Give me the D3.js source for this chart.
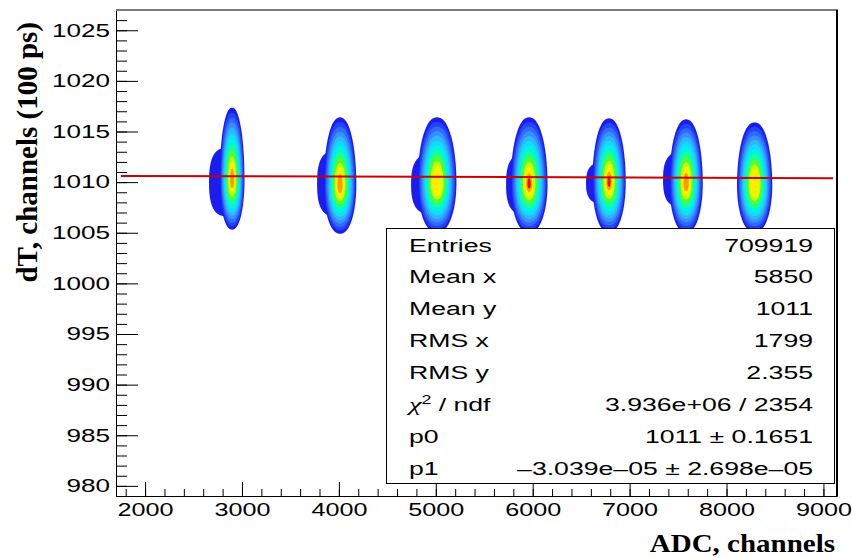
<!DOCTYPE html>
<html><head><meta charset="utf-8">
<script src="https://cdn.jsdelivr.net/npm/d3@7"></script>
<style>body{margin:0;background:#fff}</style>
</head><body>
<svg id="c" width="852" height="558"></svg>
<script>
// ---------------- data ----------------
const xTickValues = [2000, 3000, 4000, 5000, 6000, 7000, 8000, 9000];
const xTickLabels = ["2000", "3000", "4000", "5000", "6000", "7000", "8000", "9000"];
const yTickValues = [980, 985, 990, 995, 1000, 1005, 1010, 1015, 1020, 1025];
const yTickLabels = ["980", "985", "990", "995", "1000", "1005", "1010", "1015", "1020", "1025"];

// seven ADC clusters of the 2D histogram (ADC, dT)
const clusterADC = [2898, 4012, 5013, 5963, 6788, 7583, 8290];
const clusterHalfWidthADC = [128, 168, 200, 190, 172, 172, 182];
const clusterPeakDT = [1010.2, 1009.7, 1009.9, 1009.8, 1010.0, 1009.9, 1009.7];
const clusterTopDT = [1017.35, 1016.4, 1016.4, 1016.4, 1016.3, 1016.2, 1015.9];
const clusterBottomDT = [1005.3, 1004.9, 1005.0, 1005.0, 1005.0, 1005.0, 1005.0];
const clusterShoulderADC = [2660, 3775, 4745, 5725, 6550, 7345, 8150];
const clusterShoulderTopDT = [1013.6, 1013.3, 1013.0, 1013.0, 1012.2, 1013.2, 1012.0];
const clusterShoulderBottomDT = [1006.8, 1006.8, 1007.0, 1007.0, 1008.0, 1007.7, 1008.0];
const clusterPeakLevel = [11, 11, 10, 12, 12, 11, 10];

// linear fit pol1
const fitP0 = 1010.67, fitP1 = -3.039e-5;
const fitRange = [1750, 9100];

// stats box
const statsLabels = ["Entries", "Mean x", "Mean y", "RMS x", "RMS y", "CHI", "p0", "p1"];
const statsValues = ["709919", "5850", "1011", "1799", "2.355", "3.936e+06 / 2354",
  "1011 \u00b1 0.1651", "\u20133.039e\u201305 \u00b1 2.698e\u201305"];

const xTitle = "ADC, channels";
const yTitle = "dT, channels (100 ps)";

// ---------------- rendering ----------------
const levelColors = ["#1c1cf0", "#2244ff", "#2f6bff", "#3890ff", "#2bb8ff", "#10dcff",
  "#00f5e0", "#1cff90", "#50ff30", "#c8ff00", "#ffee00", "#ff9a00", "#e81000"];
const levelFactors = [1, 0.93, 0.86, 0.79, 0.72, 0.65, 0.57, 0.49, 0.41, 0.33, 0.25, 0.16, 0.09];

const svg = d3.select("#c");
const L = 116, R = 837, T = 10, B = 496;
const x = d3.scaleLinear().domain([1700, 9140]).range([L, R]);
const y = d3.scaleLinear().domain([979, 1027]).range([B, T]);
const SANS = "'Liberation Sans', Arial, Helvetica, sans-serif";
const SERIF = "'Liberation Serif', 'Times New Roman', serif";

const plot = svg.append("g");
const line = d3.line().x(d => x(d[0])).y(d => y(d[1])).curve(d3.curveLinearClosed);

clusterADC.forEach((cx, i) => {
  const g = plot.append("g");
  // left shoulder (low-count tail)
  const sx = clusterShoulderADC[i], sTop = clusterShoulderTopDT[i], sBot = clusterShoulderBottomDT[i];
  const mid = (sTop + sBot) / 2 - 0.2, half = (sTop - sBot) / 2;
  const sh = [];
  for (let a = Math.PI / 2; a <= 3 * Math.PI / 2 + 1e-9; a += Math.PI / 40) {
    const c = Math.cos(a), s = Math.sin(a);
    sh.push([cx - (cx - sx) * Math.pow(Math.abs(c), 0.55), mid + half * Math.sign(s) * Math.pow(Math.abs(s), 0.8)]);
  }
  g.append("path").attr("d", line(sh)).attr("fill", levelColors[0]);
  // contour levels
  for (let k = 0; k <= clusterPeakLevel[i]; k++) {
    const f = levelFactors[k];
    const pts = [];
    for (let a = 0; a < 2 * Math.PI; a += Math.PI / 48) {
      const c = Math.cos(a), s = Math.sin(a);
      const ext = s >= 0 ? (clusterTopDT[i] - clusterPeakDT[i]) : (clusterPeakDT[i] - clusterBottomDT[i]);
      pts.push([cx + clusterHalfWidthADC[i] * f * Math.sign(c) * Math.pow(Math.abs(c), 0.9),
                clusterPeakDT[i] + ext * f * s]);
    }
    g.append("path").attr("d", line(pts)).attr("fill", levelColors[k]);
  }
});

// fit line
svg.append("line")
  .attr("x1", x(fitRange[0])).attr("y1", y(fitP0 + fitP1 * fitRange[0]))
  .attr("x2", x(fitRange[1])).attr("y2", y(fitP0 + fitP1 * fitRange[1]))
  .attr("stroke", "#cc0000").attr("stroke-width", 2);

// axes
const yMinor = svg.append("g").attr("transform", `translate(${L},0)`)
  .call(d3.axisLeft(y).tickValues(d3.range(979, 1027.5, 1)).tickSize(-11).tickFormat(""));
const yMajor = svg.append("g").attr("transform", `translate(${L},0)`)
  .call(d3.axisLeft(y).tickValues(yTickValues).tickSize(-22).tickPadding(6)
    .tickFormat((d, i) => yTickLabels[i]));
const xMinor = svg.append("g").attr("transform", `translate(0,${B})`)
  .call(d3.axisBottom(x).tickValues(d3.range(1800, 9141, 200)).tickSize(-7).tickFormat(""));
const xMajor = svg.append("g").attr("transform", `translate(0,${B})`)
  .call(d3.axisBottom(x).tickValues(xTickValues).tickSize(-14).tickPadding(7)
    .tickFormat((d, i) => xTickLabels[i]));
[yMinor, yMajor, xMinor, xMajor].forEach(a => {
  a.select(".domain").remove();
  a.selectAll(".tick line").attr("stroke", "#000").attr("stroke-width", 1);
});
yMajor.selectAll("text").attr("font-family", SANS).attr("font-size", 18).attr("fill", "#000")
  .attr("x", -6 / 1.45).attr("transform", "scale(1.45,1)");
xMajor.selectAll("text").attr("font-family", SANS).attr("font-size", 18).attr("fill", "#000")
  .attr("transform", "scale(1.4,1)");

// frame
svg.append("rect").attr("x", L + 0.5).attr("y", T).attr("width", R - L - 0.5).attr("height", B - T + 0.5)
  .attr("fill", "none").attr("stroke", "#000").attr("stroke-width", 1);
svg.append("line").attr("x1", L).attr("x2", R + 1).attr("y1", T).attr("y2", T)
  .attr("stroke", "#7a7a7a").attr("stroke-width", 2);
svg.append("line").attr("x1", R).attr("x2", R).attr("y1", T).attr("y2", B + 0.5)
  .attr("stroke", "#000").attr("stroke-width", 2);

// stats box
const bx = 386.5, by = 228.5, bw = 448, bh = 255;
svg.append("rect").attr("x", bx).attr("y", by).attr("width", bw).attr("height", bh)
  .attr("fill", "#fff").attr("stroke", "#000").attr("stroke-width", 1);
statsLabels.forEach((lab, i) => {
  const base = 251.5 + i * 31.9;
  const t = svg.append("text").attr("font-family", SANS).attr("font-size", 18).attr("fill", "#000")
    .attr("transform", `translate(409,${base}) scale(1.48,1)`);
  if (lab === "CHI") {
    t.append("tspan").attr("font-family", SERIF).attr("font-style", "italic").attr("font-size", 19).text("\u03c7");
    t.append("tspan").attr("font-size", 12).attr("dy", -7).text("2");
    t.append("tspan").attr("dy", 7).text(" / ndf");
  } else t.text(lab);
  svg.append("text").attr("font-family", SANS).attr("font-size", 18).attr("fill", "#000")
    .attr("text-anchor", "end")
    .attr("transform", `translate(813,${base}) scale(1.48,1)`).text(statsValues[i]);
});

// axis titles
svg.append("text").attr("font-family", SERIF).attr("font-weight", "bold").attr("font-size", 25)
  .attr("text-anchor", "end").attr("transform", "translate(835,552) scale(1.16,1)").text(xTitle);
svg.append("text").attr("font-family", SERIF).attr("font-weight", "bold").attr("font-size", 29)
  .attr("text-anchor", "end").attr("transform", "translate(37,22) rotate(-90)").text(yTitle);
</script>
</body></html>
